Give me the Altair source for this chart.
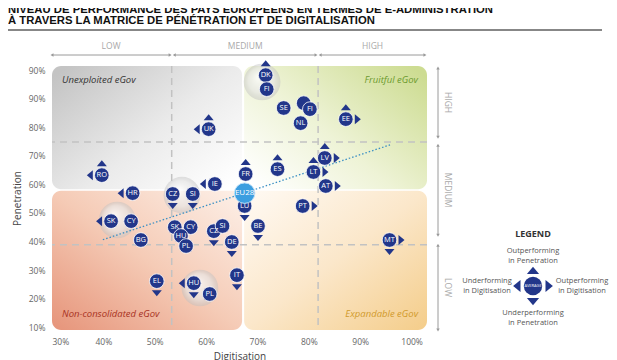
import altair as alt
import pandas as pd

# ---------------- data ----------------
countries = ["DK", "FI", "SE", "", "FI", "NL", "EE", "UK", "RO", "FR", "ES", "LV", "LT", "AT",
             "HR", "IE", "CZ", "SI", "LU", "PT", "SK", "CY", "BG", "SK", "CY", "HU", "PL",
             "CZ", "SI", "DE", "BE", "MT", "IT", "EL", "HU", "PL"]
digitisation = [71.6, 71.8, 75.1, 79.0, 80.2, 78.4, 87.2, 60.5, 39.7, 67.7, 73.9, 83.1, 80.9, 83.3,
                45.7, 61.7, 53.5, 57.4, 67.5, 78.8, 41.5, 45.4, 47.3, 53.9, 57.0, 55.1, 56.1,
                61.5, 63.2, 65.0, 70.1, 95.7, 66.0, 50.4, 57.6, 60.7]
penetration = [98.2, 93.3, 86.7, 88.4, 86.3, 81.4, 82.8, 79.3, 63.2, 63.6, 65.3, 69.2, 64.3, 59.4,
               56.9, 60.1, 56.6, 56.6, 52.4, 52.4, 47.1, 47.1, 40.5, 45.0, 45.0, 41.9, 38.4,
               43.6, 45.4, 39.8, 45.4, 40.5, 28.2, 26.1, 25.4, 21.6]
# U = outperforming in penetration, D = underperforming in penetration,
# L = underperforming in digitisation, R = outperforming in digitisation
arrows = ["U", "", "", "", "", "", "UR", "LU", "LU", "U", "U", "UR", "UR", "R",
          "L", "L", "D", "D", "D", "R", "L", "", "", "", "", "", "",
          "D", "", "D", "D", "RD", "D", "D", "LD", ""]

eu_label = ["EU28"]
eu_digitisation = [67.5]
eu_penetration = [56.9]

trend_x = [39.9, 95.8]
trend_y = [40.6, 73.8]

halo_x = [70.9, 55.3, 42.7, 58.8]
halo_y = [95.8, 56.2, 47.5, 23.7]

quad_names = ["Unexploited eGov", "Fruitful eGov", "Non-consolidated eGov", "Expandable eGov"]
quad_x0 = [30.0, 67.4, 30.0, 67.4]
quad_x1 = [67.0, 103.0, 67.0, 103.0]
quad_y0 = [58.3, 58.3, 9.0, 9.0]
quad_y1 = [101.4, 101.4, 57.7, 57.7]

split_digitisation = [53.3, 81.8]
split_penetration = [74.8, 38.8]

dig_bands = ["LOW", "MEDIUM", "HIGH"]
dig_band_start = [30.0, 53.8, 82.2]
dig_band_end = [53.0, 81.4, 102.6]
pen_bands = ["HIGH", "MEDIUM", "LOW"]
pen_band_start = [100.7, 73.7, 38.7]
pen_band_end = [76.5, 42.2, 9.0]

x_ticks = [30, 40, 50, 60, 70, 80, 90, 100]
x_tick_labels = ["30%", "40%", "50%", "60%", "70%", "80%", "90%", "100%"]
y_ticks = [10, 20, 30, 40, 50, 60, 70, 80, 90, 100]
y_tick_labels = ["10%", "20%", "30%", "40%", "50%", "60%", "70%", "80%", "90%", "90%"]

title_lines = ["NIVEAU DE PERFORMANCE DES PAYS EUROPÉENS EN TERMES DE E-ADMINISTRATION",
               "À TRAVERS LA MATRICE DE PÉNÉTRATION ET DE DIGITALISATION"]

# ---------------- styling ----------------
NAVY = "#22368a"
FONT = "Open Sans"
XS = alt.Scale(domain=[30, 103], nice=False, zero=False)
YS = alt.Scale(domain=[9, 101.4], nice=False, zero=False)


def label_expr(values, labels):
    expr = "''"
    for v, l in zip(values, labels):
        expr = f"datum.value == {v} ? '{l}' : ({expr})"
    return expr


AX = alt.Axis(values=x_ticks, labelExpr=label_expr(x_ticks, x_tick_labels),
              title="Digitisation", labelPadding=7, titlePadding=6)
AY = alt.Axis(values=y_ticks, labelExpr=label_expr(y_ticks, y_tick_labels),
              title="Penetration", labelPadding=7, titlePadding=6)


def X(f):
    return alt.X(f, scale=XS, axis=AX)


def Y(f):
    return alt.Y(f, scale=YS, axis=AY)


df = pd.DataFrame({"country": countries, "dig": digitisation, "pen": penetration})
arrow_rows = []
for c, x, y, a in zip(countries, digitisation, penetration, arrows):
    for d in a:
        arrow_rows.append({"dig": x, "pen": y, "dir": d})
arrow_df = pd.DataFrame(arrow_rows)
eu_df = pd.DataFrame({"country": eu_label, "dig": eu_digitisation, "pen": eu_penetration})
trend_df = pd.DataFrame({"dig": trend_x, "pen": trend_y})
halo_df = pd.DataFrame({"dig": halo_x, "pen": halo_y})
quad_df = pd.DataFrame({"name": quad_names, "x0": quad_x0, "x1": quad_x1, "y0": quad_y0, "y1": quad_y1})
vsplit_df = pd.DataFrame({"dig": split_digitisation})
hsplit_df = pd.DataFrame({"pen": split_penetration})
dband_df = pd.DataFrame({"band": dig_bands, "s": dig_band_start, "e": dig_band_end})
dband_df["mid"] = (dband_df["s"] + dband_df["e"]) / 2
pband_df = pd.DataFrame({"band": pen_bands, "s": pen_band_start, "e": pen_band_end})
pband_df["mid"] = (pband_df["s"] + pband_df["e"]) / 2
dummy = pd.DataFrame({"a": [0]})

# ---------------- quadrant backgrounds ----------------
grads = {
    "Unexploited eGov": alt.Gradient(gradient="linear", x1=0, y1=0.1, x2=1, y2=0.9,
                                     stops=[alt.GradientStop(offset=0, color="#c4c4c4"),
                                            alt.GradientStop(offset=0.55, color="#ebebeb"),
                                            alt.GradientStop(offset=1, color="#ffffff")]),
    "Fruitful eGov": alt.Gradient(gradient="linear", x1=0, y1=0.9, x2=1, y2=0.1,
                                  stops=[alt.GradientStop(offset=0, color="#ffffff"),
                                         alt.GradientStop(offset=0.45, color="#eef3d6"),
                                         alt.GradientStop(offset=1, color="#cddc92")]),
    "Non-consolidated eGov": alt.Gradient(gradient="linear", x1=0, y1=1, x2=1, y2=0,
                                          stops=[alt.GradientStop(offset=0, color="#e6947a"),
                                                 alt.GradientStop(offset=0.5, color="#f5cbb6"),
                                                 alt.GradientStop(offset=1, color="#fdf0e8")]),
    "Expandable eGov": alt.Gradient(gradient="linear", x1=0, y1=0, x2=1, y2=1,
                                    stops=[alt.GradientStop(offset=0, color="#fffaf4"),
                                           alt.GradientStop(offset=0.5, color="#fbe7ca"),
                                           alt.GradientStop(offset=1, color="#f4cd8a")]),
}
layers = []
for name in quad_names:
    layers.append(
        alt.Chart(quad_df).transform_filter(alt.datum.name == name)
        .mark_rect(fill=grads[name], cornerRadius=9, stroke=None)
        .encode(x=X("x0:Q"), x2="x1:Q", y=Y("y0:Q"), y2="y1:Q")
    )

# dashed split lines
layers.append(alt.Chart(vsplit_df).mark_rule(color="#c2c2c2", strokeDash=[7, 5], strokeWidth=1.5)
              .encode(x=X("dig:Q")))
layers.append(alt.Chart(hsplit_df).mark_rule(color="#c2c2c2", strokeDash=[7, 5], strokeWidth=1.5)
              .encode(y=Y("pen:Q")))

# halos
halo_grad = alt.Gradient(gradient="radial", x1=0.4, y1=0.35, r1=0, x2=0.5, y2=0.5, r2=0.5,
                         stops=[alt.GradientStop(offset=0, color="rgba(255,255,255,0.8)"),
                                alt.GradientStop(offset=0.7, color="rgba(228,228,228,0.65)"),
                                alt.GradientStop(offset=1, color="rgba(190,190,190,0.45)")])
layers.append(alt.Chart(halo_df).mark_point(shape="circle", filled=True, fill=halo_grad, size=1350,
                                            opacity=1, strokeWidth=0)
              .encode(x=X("dig:Q"), y=Y("pen:Q")))

# trend line
layers.append(alt.Chart(trend_df).mark_line(color="#3a8fc4", strokeDash=[1.5, 2], strokeWidth=1.3)
              .encode(x=X("dig:Q"), y=Y("pen:Q")))

# arrows
shapes = {
    "U": ("M-1,0.6L1,0.6L0,-0.6Z", 0, -12),
    "D": ("M-1,-0.6L1,-0.6L0,0.6Z", 0, 12),
    "L": ("M0.6,-1L0.6,1L-0.6,0Z", -12, 0),
    "R": ("M-0.6,-1L-0.6,1L0.6,0Z", 12, 0),
}
for d, (path, dx, dy) in shapes.items():
    layers.append(
        alt.Chart(arrow_df).transform_filter(alt.datum.dir == d)
        .mark_point(shape=path, filled=True, color=NAVY, size=100, opacity=1, strokeWidth=0,
                    xOffset=dx, yOffset=dy)
        .encode(x=X("dig:Q"), y=Y("pen:Q"))
    )

# country circles
layers.append(
    alt.Chart(df).mark_circle(size=215, color=NAVY, opacity=1, stroke="white", strokeWidth=0.8)
    .encode(x=X("dig:Q"), y=Y("pen:Q"))
)
layers.append(
    alt.Chart(df).mark_text(color="white", font=FONT, fontSize=7.5, align="center", baseline="middle")
    .encode(x=X("dig:Q"), y=Y("pen:Q"), text="country:N")
)
# EU28
layers.append(
    alt.Chart(eu_df).mark_circle(size=420, color="#3c9ee0", opacity=1, stroke="#bfe0f7", strokeWidth=1)
    .encode(x=X("dig:Q"), y=Y("pen:Q"))
)
layers.append(
    alt.Chart(eu_df).mark_text(color="white", font=FONT, fontSize=8, align="center", baseline="middle")
    .encode(x=X("dig:Q"), y=Y("pen:Q"), text="country:N")
)

# digitisation bands (top)
layers.append(alt.Chart(dband_df).mark_rule(color="#9a9a9a", strokeWidth=1)
              .encode(x=X("s:Q"), x2="e:Q", y=alt.value(-11)))
layers.append(alt.Chart(dband_df).mark_point(shape="triangle-left", filled=True, color="#9a9a9a", size=12, opacity=1)
              .encode(x=X("s:Q"), y=alt.value(-11)))
layers.append(alt.Chart(dband_df).mark_point(shape="triangle-right", filled=True, color="#9a9a9a", size=12, opacity=1)
              .encode(x=X("e:Q"), y=alt.value(-11)))
layers.append(alt.Chart(dband_df).mark_text(color="#a8a8a8", font=FONT, fontSize=8.5, baseline="middle")
              .encode(x=X("mid:Q"), y=alt.value(-20), text="band:N"))

# penetration bands (right)
layers.append(alt.Chart(pband_df).mark_rule(color="#9a9a9a", strokeWidth=1)
              .encode(y=Y("s:Q"), y2="e:Q", x=alt.value(386)))
layers.append(alt.Chart(pband_df).mark_point(shape="triangle-up", filled=True, color="#9a9a9a", size=12, opacity=1)
              .encode(y=Y("s:Q"), x=alt.value(386)))
layers.append(alt.Chart(pband_df).mark_point(shape="triangle-down", filled=True, color="#9a9a9a", size=12, opacity=1)
              .encode(y=Y("e:Q"), x=alt.value(386)))
layers.append(alt.Chart(pband_df).mark_text(color="#a8a8a8", font=FONT, fontSize=8.5, angle=90, baseline="middle")
              .encode(y=Y("mid:Q"), x=alt.value(396), text="band:N"))


def txt(s, px, py, **kw):
    return alt.Chart(dummy).mark_text(text=s, **kw).encode(x=alt.value(px), y=alt.value(py))


# quadrant names
layers.append(txt("Unexploited eGov", 10, 14, align="left", font=FONT, fontSize=9.5, fontStyle="italic", color="#333333"))
layers.append(txt("Fruitful eGov", 366, 14, align="right", font=FONT, fontSize=9.5, fontStyle="italic", color="#6b9a2e"))
layers.append(txt("Non-consolidated eGov", 10, 248, align="left", font=FONT, fontSize=9.5, fontStyle="italic", color="#a83223"))
layers.append(txt("Expandable eGov", 366, 248, align="right", font=FONT, fontSize=9.5, fontStyle="italic", color="#d19a2c"))

# title
TFONT = "Liberation Sans"
layers.append(txt(title_lines[0], -44, -53, align="left", baseline="alphabetic", font=TFONT,
                  fontSize=11.3, fontWeight="bold", color="#111111"))
layers.append(txt(title_lines[1], -44, -42, align="left", baseline="alphabetic", font=TFONT,
                  fontSize=11.3, fontWeight="bold", color="#111111"))
layers.append(alt.Chart(dummy).mark_rule(color="#111111", strokeWidth=1.2)
              .encode(x=alt.value(-44), x2=alt.value(550), y=alt.value(-36)))

# legend
LX, LY = 481, 220
legend_grey = "#555555"
layers.append(txt("LEGEND", LX, LY - 52, font=FONT, fontSize=9, fontWeight="bold", color="#333333"))
layers.append(txt(["Outperforming", "in Penetration"], LX, LY - 35, font=FONT, fontSize=7.5, lineHeight=10, color=legend_grey))
layers.append(txt(["Underperforming", "in Penetration"], LX, LY + 27, font=FONT, fontSize=7.5, lineHeight=10, color=legend_grey))
layers.append(txt(["Underforming", "in Digitisation"], LX - 46, LY - 5, font=FONT, fontSize=7.5, lineHeight=10, color=legend_grey))
layers.append(txt(["Outperforming", "in Digitisation"], LX + 49, LY - 5, font=FONT, fontSize=7.5, lineHeight=10, color=legend_grey))
layers.append(alt.Chart(dummy).mark_circle(size=340, color=NAVY, opacity=1)
              .encode(x=alt.value(LX), y=alt.value(LY)))
layers.append(txt("AVERAGE", LX, LY, font=FONT, fontSize=4, color="white", baseline="middle"))
for d, (path, dx, dy) in shapes.items():
    layers.append(alt.Chart(dummy).mark_point(shape=path, filled=True, color=NAVY, size=150, opacity=1, strokeWidth=0)
                  .encode(x=alt.value(LX + dx * 1.35), y=alt.value(LY + dy * 1.3)))

chart = alt.layer(*layers).properties(
    width=375, height=264,
    padding={"left": 44, "top": 58, "right": 182, "bottom": 30},
    autosize=alt.AutoSizeParams(type="none"),
).configure_view(stroke=None).configure_axis(
    grid=False, domain=False, ticks=False,
    labelFont=FONT, labelFontSize=8.5, labelColor="#666666",
    titleFont=FONT, titleFontSize=10, titleColor="#444444", titleFontWeight="normal",
)

chart.save("out.html", embed_options={"renderer": "svg", "actions": False})
